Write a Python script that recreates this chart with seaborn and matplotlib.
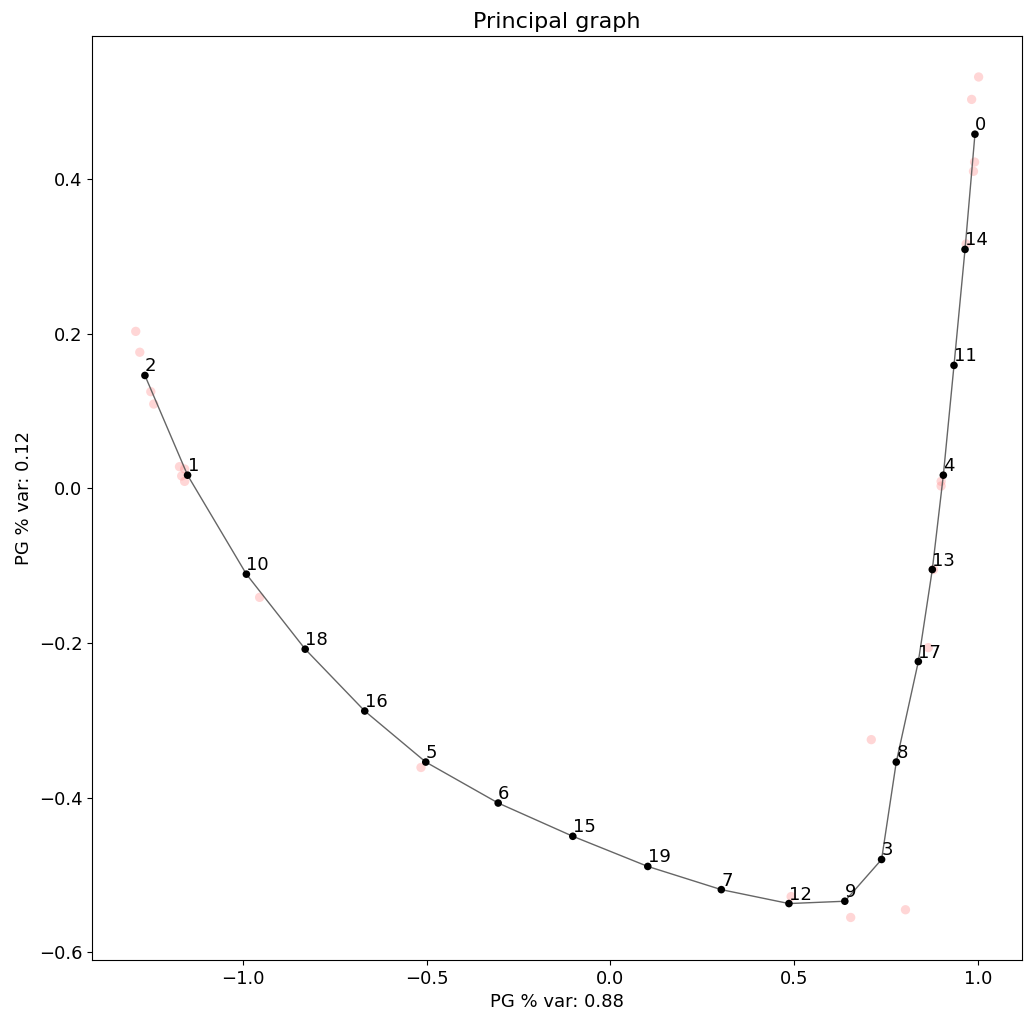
import matplotlib
matplotlib.use("Agg")
import matplotlib.pyplot as plt
import seaborn as sns
import pandas as pd

node_x = [0.992,-1.150,-1.266,0.738,0.906,-0.502,-0.305,0.302,0.778,0.638,-0.990,0.935,0.486,0.876,0.965,-0.102,-0.668,0.838,-0.830,0.102]
node_y = [0.458,0.017,0.146,-0.480,0.017,-0.354,-0.407,-0.519,-0.354,-0.534,-0.111,0.159,-0.537,-0.105,0.309,-0.450,-0.288,-0.224,-0.208,-0.489]
edge_order = [0,14,11,4,13,17,8,3,9,12,7,19,15,6,5,16,18,10,1,2]
data_x = [1.002,0.983,0.991,0.988,0.968,0.900,0.900,0.879,0.865,0.710,0.803,0.654,0.492,-0.515,-0.954,-1.158,-1.172,-1.166,-1.158,-1.242,-1.250,-1.280,-1.291]
data_y = [0.532,0.503,0.422,0.410,0.316,0.009,0.003,-0.105,-0.206,-0.325,-0.545,-0.555,-0.528,-0.361,-0.141,0.025,0.028,0.016,0.009,0.109,0.125,0.176,0.203]

sns.set_style("ticks")
plt.rcParams['font.family'] = ['DejaVu Sans']
plt.rcParams['text.color'] = 'black'
fig = plt.figure(figsize=(10.31, 10.23), dpi=100)
ax = fig.add_axes([92/1031, 63/1023, 930/1031, 924/1023])

sns.scatterplot(x=data_x, y=data_y, color="#ff9999", alpha=0.4, s=45, edgecolor="none", ax=ax)
ex = [node_x[i] for i in edge_order]
ey = [node_y[i] for i in edge_order]
ax.plot(ex, ey, color="#555555", lw=1, alpha=0.9)
sns.scatterplot(x=node_x, y=node_y, color="black", s=30, edgecolor="none", ax=ax, zorder=3)
for i, (x, y) in enumerate(zip(node_x, node_y)):
    ax.text(x, y, str(i), fontsize=13, ha="left", va="bottom", color="black")

ax.set_xlim(-1.41, 1.12)
ax.set_ylim(-0.61, 0.585)
ax.set_title("Principal graph", fontsize=16, color="black")
ax.set_xlabel("PG % var: 0.88", fontsize=13, color="black")
ax.set_ylabel("PG % var: 0.12", fontsize=13, color="black")
ax.tick_params(labelsize=13, colors="black")
for s in ax.spines.values():
    s.set_visible(True)
    s.set_color("black")
fig.savefig("out.png", dpi=100)
